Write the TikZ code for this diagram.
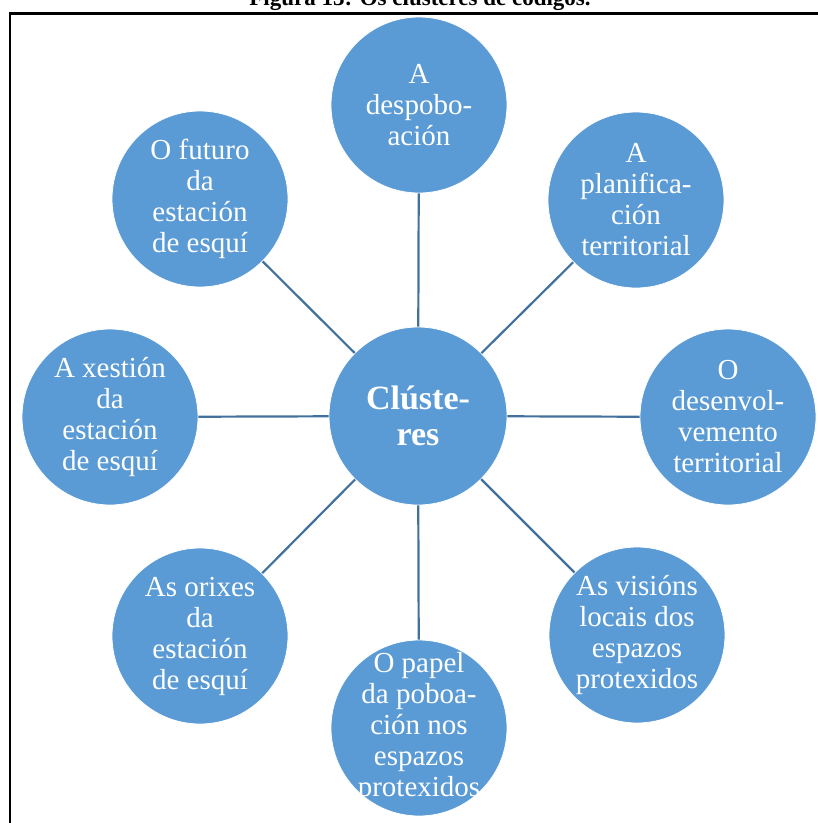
\documentclass[tikz,border=0pt]{standalone}
\usepackage{fontspec}
\setmainfont{Liberation Serif}
\definecolor{circfill}{HTML}{5B9BD5}
\definecolor{linkcol}{HTML}{41719C}
\tikzset{
  bub/.style={circle, fill=circfill, draw=white, line width=0.8pt, minimum size=176pt, inner sep=-30pt,
    text=white, align=center, font=\fontsize{29}{31}\selectfont},
  hub/.style={bub, minimum size=178pt, font=\fontsize{34}{36}\selectfont\bfseries},
  link/.style={draw=linkcol, line width=2.2pt},
  frame/.style={draw=black, line width=2.6pt}
}
\begin{document}
\begin{tikzpicture}[x=1pt,y=-1pt]
\useasboundingbox (0,0) rectangle (818,823);
\clip (0,0) rectangle (818,823);
\node[anchor=base, font=\fontsize{23}{25}\selectfont\bfseries] (cap) at (420,5) {Figura 13: Os clústeres de códigos.};
\coordinate (fa) at (9.8,823);
\coordinate (fb) at (9.8,13.5);
\coordinate (fc) at (818,13.5);
\draw[frame] (fa) -- (fb) -- (fc);
\node[hub] (c) at (418,416) {Clúste-\\res};
\node[bub] (n) at (419,105) {A\\despobo-\\ación};
\node[bub] (ne) at (636,200) {A\\planifica-\\ción\\territorial};
\node[bub] (e) at (728,417) {O\\desenvol-\\vemento\\territorial};
\node[bub] (se) at (637,635) {As visións\\locais dos\\espazos\\protexidos};
\node[bub] (s) at (419,728) {O papel\\da poboa-\\ción nos\\espazos\\protexidos};
\node[bub] (sw) at (200,636) {As orixes\\da\\estación\\de esquí};
\node[bub] (w) at (110,417) {A xestión\\da\\estación\\de esquí};
\node[bub] (nw) at (200,199) {O futuro\\da\\estación\\de esquí};
\foreach \t in {n,ne,e,se,s,sw,w,nw} \draw[link] (c) -- (\t);
\end{tikzpicture}
\end{document}
